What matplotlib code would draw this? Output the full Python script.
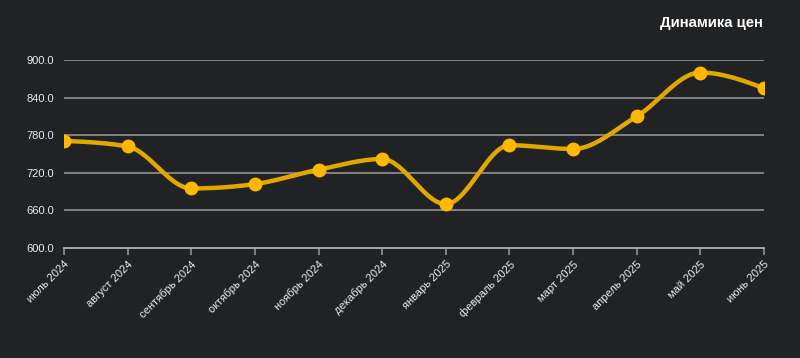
import numpy as np
import matplotlib
matplotlib.use('Agg')
import matplotlib.pyplot as plt

plt.rcParams['font.family'] = ['Liberation Sans', 'DejaVu Sans']

months = ['июль 2024', 'август 2024', 'сентябрь 2024', 'октябрь 2024', 'ноябрь 2024',
          'декабрь 2024', 'январь 2025', 'февраль 2025', 'март 2025', 'апрель 2025',
          'май 2025', 'июнь 2025']
prices = [771, 762, 695, 702, 725, 742, 670, 764, 758, 810, 880, 855]
yticks = [600, 660, 720, 780, 840, 900]

BG = '#212224'
LINE = '#e3a800'
DOT = '#ffb800'
TXT = '#e8ecf2'


def monotone_curve(x, y, n=30):
    # monotone cubic (like d3 curveMonotoneX), drawing only
    x = np.asarray(x, float)
    y = np.asarray(y, float)
    h = np.diff(x)
    s = np.diff(y) / h
    m = np.zeros_like(y)
    for i in range(1, len(y) - 1):
        if s[i - 1] * s[i] <= 0:
            m[i] = 0
        else:
            p = (s[i - 1] * h[i] + s[i] * h[i - 1]) / (h[i - 1] + h[i])
            m[i] = (np.sign(s[i - 1]) + np.sign(s[i])) * min(abs(s[i - 1]), abs(s[i]), 0.5 * abs(p))
    m[0] = (3 * s[0] - m[1]) / 2 if len(y) > 2 else s[0]
    m[-1] = (3 * s[-1] - m[-2]) / 2
    xs, ys = [], []
    t = np.linspace(0, 1, n)
    for i in range(len(y) - 1):
        h00 = 2 * t ** 3 - 3 * t ** 2 + 1
        h10 = t ** 3 - 2 * t ** 2 + t
        h01 = -2 * t ** 3 + 3 * t ** 2
        h11 = t ** 3 - t ** 2
        xs.extend(x[i] + t * h[i])
        ys.extend(h00 * y[i] + h10 * h[i] * m[i] + h01 * y[i + 1] + h11 * h[i] * m[i + 1])
    return np.array(xs), np.array(ys)


fig = plt.figure(figsize=(8, 3.58), dpi=100, facecolor=BG)
ax = fig.add_axes([0.08, 0.3073, 0.875, 0.5251], facecolor=BG)

x = np.arange(len(months))
cx, cy = monotone_curve(x, prices)
ax.plot(cx, cy, color=LINE, lw=3.2, solid_capstyle='round', zorder=3)
ax.plot(x, prices, 'o', color=DOT, ms=9, zorder=4)

ax.set_xlim(0, len(months) - 1)
ax.set_ylim(600, 900)
ax.set_yticks(yticks)
ax.set_yticklabels([f'{v:.1f}' for v in yticks])
for v in yticks[1:]:
    ax.axhline(v, color='#8a8a8a', lw=1.3, zorder=1)

ax.set_xticks(x)
ax.set_xticklabels(months, rotation=45, ha='right', rotation_mode='anchor')

for s in ['top', 'right', 'left']:
    ax.spines[s].set_visible(False)
ax.spines['bottom'].set_color('#b0b0b0')
ax.spines['bottom'].set_linewidth(1.3)
ax.tick_params(axis='x', colors='#8a8a8a', length=5, width=1.3, labelcolor=TXT,
               labelsize=8, pad=3)
ax.tick_params(axis='y', length=0, labelcolor=TXT, labelsize=8, pad=7)

fig.text(0.954, 0.935, 'Динамика цен', color='white', fontsize=10.7,
         fontweight='bold', ha='right', va='center')

fig.savefig('out.png', dpi=100, facecolor=BG)
